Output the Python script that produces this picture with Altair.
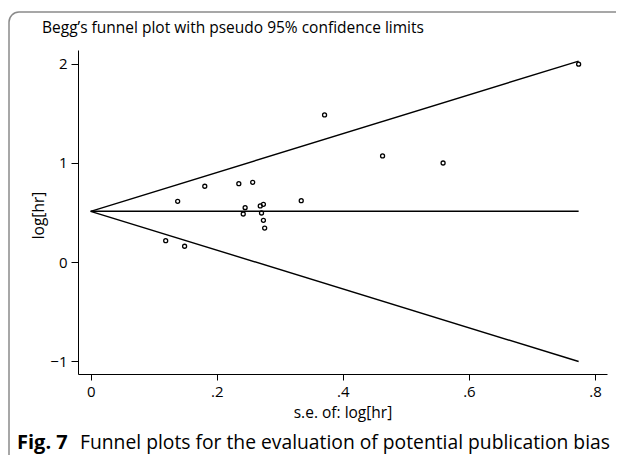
import altair as alt
import pandas as pd

# Study-level data
se = [0.119, 0.149, 0.138, 0.181, 0.235, 0.257, 0.245, 0.242, 0.269,
      0.274, 0.271, 0.274, 0.276, 0.334, 0.371, 0.463, 0.559, 0.774]
loghr = [0.215, 0.159, 0.613, 0.765, 0.791, 0.805, 0.549, 0.485, 0.566,
         0.583, 0.495, 0.421, 0.343, 0.619, 1.485, 1.071, 1.000, 1.998]

# Pseudo 95% confidence limits (line endpoints)
limit_se = [0.0, 0.774]
upper = [0.512, 2.029]
lower = [0.512, -1.005]
center = [0.512, 0.512]

x_ticks = [0, 0.2, 0.4, 0.6, 0.8]
y_ticks = [-1, 0, 1, 2]

title_text = "Begg\u2019s funnel plot with pseudo 95% confidence limits"
fig_label = "Fig. 7"
caption_text = "Funnel plots for the evaluation of potential publication bias"

pts = pd.DataFrame({"se": se, "loghr": loghr})
lines = pd.DataFrame({
    "se": limit_se * 3,
    "val": upper + lower + center,
    "line": ["upper"] * 2 + ["lower"] * 2 + ["center"] * 2,
})

xscale = alt.Scale(domain=[-0.0201, 0.819], nice=False, zero=False)
yscale = alt.Scale(domain=[-1.131, 2.141], nice=False, zero=False)

xaxis = alt.Axis(values=x_ticks, title="s.e. of: log[hr]",
                 labelExpr="datum.value == 0 ? '0' : replace(format(datum.value, '.1f'), '0.', '.')",
                 tickSize=6, labelPadding=4, labelFontSize=15, titleFontSize=15.5,
                 titleBaseline="middle", titleY=38)
yaxis = alt.Axis(values=y_ticks, format="d", title="log[hr]",
                 tickSize=7, labelPadding=4, labelFontSize=15, titleFontSize=15.5,
                 titleAngle=270, titleBaseline="middle", titleAlign="center",
                 titleX=-40, titleY=165)

line_layer = alt.Chart(lines).mark_line(color="black", strokeWidth=1.4).encode(
    x=alt.X("se:Q", scale=xscale, axis=xaxis),
    y=alt.Y("val:Q", scale=yscale, axis=yaxis),
    detail="line:N",
)

point_layer = alt.Chart(pts).mark_point(
    shape="circle", filled=False, color="black", size=16, strokeWidth=1.3, opacity=1
).encode(
    x=alt.X("se:Q", scale=xscale),
    y=alt.Y("loghr:Q", scale=yscale),
)

one = pd.DataFrame({"a": [0]})
frame_color = "#8a8a8a"

frame_top = alt.Chart(one).mark_rule(color=frame_color, strokeWidth=1.5).encode(
    x=alt.value(-59), x2=alt.value(560), y=alt.value(-38)
)
frame_left = alt.Chart(one).mark_rule(color=frame_color, strokeWidth=1.5).encode(
    x=alt.value(-69), y=alt.value(-28), y2=alt.value(420)
)
frame_corner = alt.Chart(one).mark_arc(
    innerRadius=10, outerRadius=10, theta=4.7124, theta2=6.2832,
    fill=None, stroke=frame_color, strokeWidth=1.5
).encode(x=alt.value(-59), y=alt.value(-28))

title_layer = alt.Chart(one).mark_text(
    text=title_text, align="left", baseline="alphabetic",
    font="Open Sans", fontSize=15.5, color="black"
).encode(x=alt.value(-36), y=alt.value(-17))

fig_layer = alt.Chart(one).mark_text(
    text=fig_label, align="left", baseline="alphabetic",
    font="Open Sans", fontSize=20, fontWeight="bold", color="black"
).encode(x=alt.value(-61), y=alt.value(399))

cap_layer = alt.Chart(one).mark_text(
    text=caption_text, align="left", baseline="alphabetic",
    font="Open Sans", fontSize=19.3, color="black"
).encode(x=alt.value(2), y=alt.value(399))

chart = alt.layer(frame_top, frame_left, frame_corner, line_layer, point_layer,
                  title_layer, fig_layer, cap_layer).properties(
    width=529, height=324,
    padding={"left": 70, "top": 42, "right": 9, "bottom": 81},
    autosize="none",
).configure_view(stroke=None).configure_axis(
    grid=False, domainColor="black", tickColor="black", labelColor="black",
    titleColor="black", labelFont="Open Sans", titleFont="Open Sans",
    titleFontWeight="normal", domainWidth=1, tickWidth=1
)

chart.save("out.html", embed_options={"renderer": "svg", "actions": False})
